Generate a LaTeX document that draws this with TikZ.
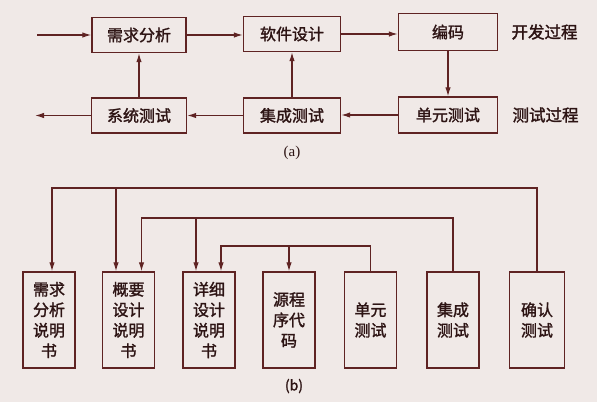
\documentclass[tikz,border=0pt]{standalone}
\usepackage{fontspec}
\setmainfont{Noto Sans CJK SC}[FakeBold=1.6,AutoFakeBold=1.6]
\newfontfamily\serifab{Liberation Serif}
\usetikzlibrary{arrows.meta}
\definecolor{bg}{RGB}{240,233,231}
\definecolor{ln}{RGB}{95,35,35}
\definecolor{tx}{RGB}{45,20,20}
\tikzset{
  abox/.style={draw=ln, line width=1.4pt, text=tx, minimum height=35pt, inner sep=0pt, font=\bfseries\fontsize{16}{18}\selectfont},
  bbox/.style={draw=ln, line width=1.4pt, text=tx, minimum width=52pt, minimum height=96pt, inner sep=0pt, align=center, font=\bfseries\fontsize{16}{20.5}\selectfont},
  arr/.style={draw=ln, line width=1.2pt, -{Latex[length=9pt,width=5.5pt]}},
  lbl/.style={text=tx, font=\bfseries\fontsize{16.5}{18}\selectfont},
  sub/.style={text=tx, font=\fontsize{14}{15}\selectfont}
}
\begin{document}
\begin{tikzpicture}[x=1pt,y=-1pt]
\fill[bg] (0,0) rectangle (597,402);
\useasboundingbox (0,0) rectangle (597,402);
% (a)
\node[abox, minimum width=94pt] (req) at (139,35) {需求分析};
\node[abox, minimum width=97pt] (sw) at (292,34) {软件设计};
\node[abox, minimum width=99pt, minimum height=37pt] (code) at (448,32) {编码};
\node[abox, minimum width=99pt, minimum height=36pt] (unit) at (448,115) {单元测试};
\node[abox, minimum width=97pt] (integ) at (292,115.5) {集成测试};
\node[abox, minimum width=95pt] (sys) at (139,115.5) {系统测试};
\node[lbl, anchor=west] (dev) at (508,32) {开发过程};
\node[lbl, anchor=west] (tst) at (509,115) {测试过程};
\node[sub, font=\serifab\fontsize{15}{16}\selectfont] (la) at (292,153) {(a)};
\coordinate (ain) at (37,35);
\coordinate (aout) at (35,115.5);
\draw[arr] (ain) -- (req.west);
\draw[arr] (req.east) -- (sw.west |- req.east);
\draw[arr] (sw.east) -- (code.west |- sw.east);
\draw[arr] (code.south) -- (unit.north);
\draw[arr] (unit.west) -- (integ.east |- unit.west);
\draw[arr] (integ.west) -- (sys.east |- integ.west);
\draw[arr] (sys.west) -- (aout);
\draw[arr] (sys.north) -- (req.south);
\draw[arr] (integ.north) -- (sw.south);
% (b)
\node[bbox] (b1) at (49,320) {需求\\分析\\说明\\书};
\node[bbox] (b2) at (128.5,320) {概要\\设计\\说明\\书};
\node[bbox] (b3) at (209,320) {详细\\设计\\说明\\书};
\node[bbox] (b4) at (289,320) {源程\\序代\\码};
\node[bbox] (b5) at (370.5,320) {单元\\测试};
\node[bbox] (b6) at (453,320) {集成\\测试};
\node[bbox, minimum width=55pt] (b7) at (537,320) {确认\\测试};
\node[sub, font=\bfseries\fontsize{14}{15}\selectfont] (lb) at (294,386) {(b)};
\coordinate (h1) at (0,188);
\coordinate (h2) at (0,218);
\coordinate (h3) at (0,246);
% level 1
\draw[arr] (b7.north) -- (b7.north |- h1) -| ([xshift=3pt]b1.north);
\draw[arr] ([xshift=-12.5pt]b2.north |- h1) -- ([xshift=-12.5pt]b2.north);
% level 2
\draw[arr] (b6.north) -- (b6.north |- h2) -| ([xshift=13pt]b2.north);
\draw[arr] ([xshift=-13pt]b3.north |- h2) -- ([xshift=-13pt]b3.north);
% level 3
\draw[arr] (b5.north) -- (b5.north |- h3) -| ([xshift=12pt]b3.north);
\draw[arr] (b4.north |- h3) -- (b4.north);
\end{tikzpicture}
\end{document}
